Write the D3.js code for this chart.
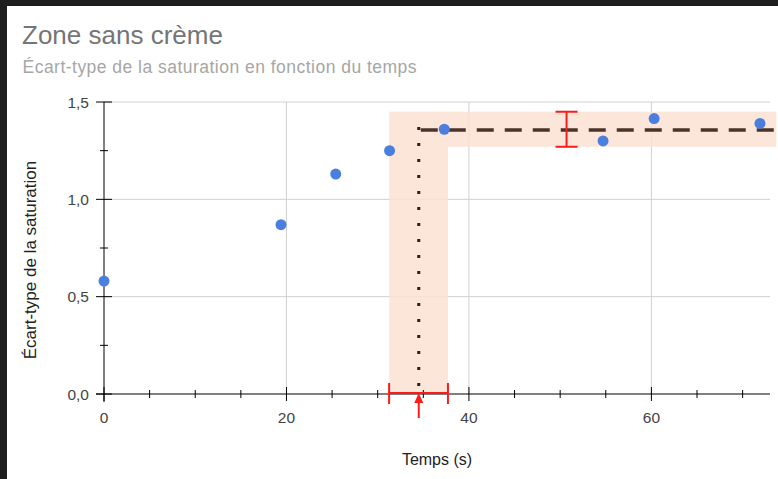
<!DOCTYPE html>
<html><head><meta charset="utf-8">
<script src="https://cdn.jsdelivr.net/npm/d3@7"></script>
<style>
html,body{margin:0;padding:0;background:#1e1e1e;overflow:hidden;}
svg{display:block;}
</style></head>
<body>
<svg id="chart" width="778" height="479"></svg>
<script>
// ---- data ----
const times = [0, 19.4, 25.4, 31.3, 37.3, 54.7, 60.3, 71.9];
const values = [0.58, 0.87, 1.13, 1.25, 1.36, 1.30, 1.415, 1.39];
const plateau = [1.356];
const plateauBand = [1.27, 1.45];
const transitionTime = [34.5];
const transitionBand = [31.25, 37.7];
const plateauErrTime = [50.7];
const xEnd = [73.7];
const xDomain = [0, 73];
const yDomain = [0, 1.5];
const xMajorTicks = [0, 20, 40, 60];
const xMinorTicks = [5, 10, 15, 25, 30, 35, 45, 50, 55, 65, 70];
const yMajorTicks = [0, 0.5, 1.0, 1.5];
const yMinorTicks = [0.25, 0.75, 1.25];
const xTickLabels = ["0", "20", "40", "60"];
const yTickLabels = ["0,0", "0,5", "1,0", "1,5"];
const titleText = "Zone sans crème";
const subtitleText = "Écart-type de la saturation en fonction du temps";
const xAxisTitle = "Temps (s)";
const yAxisTitle = "Écart-type de la saturation";

const svg = d3.select("#chart");
// white panel
svg.append("rect").attr("x", 7).attr("y", 6).attr("width", 771).attr("height", 473)
  .attr("fill", "#ffffff");

const x = d3.scaleLinear().domain(xDomain).range([104, 770]);
const y = d3.scaleLinear().domain(yDomain).range([394, 102]);

const font = "'Liberation Sans', Arial, sans-serif";

// titles
svg.append("text").attr("x", 22).attr("y", 44).text(titleText)
  .attr("font-family", font).attr("font-size", 26).attr("fill", "#757575");
svg.append("text").attr("x", 22.5).attr("y", 73).text(subtitleText)
  .attr("font-family", font).attr("font-size", 17.5).attr("fill", "#a6a6a6")
  .attr("textLength", 394).attr("lengthAdjust", "spacing");

// gridlines
const g = svg.append("g");
g.selectAll(".hg").data(yMajorTicks.filter(d => d > 0)).join("line")
  .attr("x1", x(0)).attr("x2", x(xDomain[1])).attr("y1", d => y(d)).attr("y2", d => y(d))
  .attr("stroke", "#d0d0d0").attr("stroke-width", 1);
g.selectAll(".vg").data(xMajorTicks.filter(d => d > 0)).join("line")
  .attr("x1", d => x(d)).attr("x2", d => x(d)).attr("y1", y(0)).attr("y2", y(yDomain[1]))
  .attr("stroke", "#d0d0d0").attr("stroke-width", 1);

// bands
const bandFill = "rgb(252,226,210)";
svg.append("rect")
  .attr("x", x(transitionBand[0])).attr("width", x(transitionBand[1]) - x(transitionBand[0]))
  .attr("y", y(plateauBand[1])).attr("height", y(0) - y(plateauBand[1]))
  .attr("fill", bandFill).attr("opacity", 0.85);
svg.append("rect")
  .attr("x", x(transitionBand[1])).attr("width", x(xEnd[0]) - x(transitionBand[1]))
  .attr("y", y(plateauBand[1])).attr("height", y(plateauBand[0]) - y(plateauBand[1]))
  .attr("fill", bandFill).attr("opacity", 0.85);

// axes
const ax = svg.append("g").attr("stroke", "#000").attr("stroke-width", 1);
ax.append("line").attr("x1", x(0) - 8).attr("x2", x(xDomain[1])).attr("y1", y(0)).attr("y2", y(0));
ax.append("line").attr("x1", x(0)).attr("x2", x(0)).attr("y1", y(0) + 8).attr("y2", y(yDomain[1]));
ax.selectAll(".xt").data(xMajorTicks).join("line")
  .attr("x1", d => x(d)).attr("x2", d => x(d)).attr("y1", y(0) - 7).attr("y2", y(0) + 7);
ax.selectAll(".xm").data(xMinorTicks).join("line")
  .attr("x1", d => x(d)).attr("x2", d => x(d)).attr("y1", y(0) - 4).attr("y2", y(0) + 4);
ax.selectAll(".yt").data(yMajorTicks).join("line")
  .attr("x1", x(0) - 8).attr("x2", x(0) + 8).attr("y1", d => y(d)).attr("y2", d => y(d));
ax.selectAll(".ym").data(yMinorTicks).join("line")
  .attr("x1", x(0) - 4).attr("x2", x(0) + 4).attr("y1", d => y(d)).attr("y2", d => y(d));

// tick labels
svg.selectAll(".xl").data(xMajorTicks).join("text")
  .attr("x", d => x(d)).attr("y", 423).attr("text-anchor", "middle")
  .text((d, i) => xTickLabels[i])
  .attr("font-family", font).attr("font-size", 15.5).attr("fill", "#444");
svg.selectAll(".yl").data(yMajorTicks).join("text")
  .attr("x", 89).attr("y", d => y(d) + 5.5).attr("text-anchor", "end")
  .text((d, i) => yTickLabels[i])
  .attr("font-family", font).attr("font-size", 15.5).attr("fill", "#444");

// axis titles
svg.append("text").attr("x", 437).attr("y", 465).attr("text-anchor", "middle").text(xAxisTitle)
  .attr("font-family", font).attr("font-size", 16).attr("fill", "#222");
svg.append("text").attr("transform", "translate(36,260) rotate(-90)").attr("text-anchor", "middle")
  .text(yAxisTitle).attr("font-family", font).attr("font-size", 17).attr("fill", "#222");

// dotted vertical line
svg.append("line")
  .attr("x1", x(transitionTime[0])).attr("x2", x(transitionTime[0]))
  .attr("y1", y(plateau[0]) - 3).attr("y2", y(0))
  .attr("stroke", "#222").attr("stroke-width", 3).attr("stroke-dasharray", "3,13");

// dashed plateau line
svg.append("line")
  .attr("x1", x(transitionTime[0]) + 2).attr("x2", x(xEnd[0]))
  .attr("y1", y(plateau[0])).attr("y2", y(plateau[0]))
  .attr("stroke", "#4a3328").attr("stroke-width", 3.5).attr("stroke-dasharray", "17,11");

// red error bars
const red = "#ff1a1a";
const re = svg.append("g").attr("stroke", red).attr("stroke-width", 2).attr("fill", "none");
re.append("line").attr("x1", x(plateauErrTime[0])).attr("x2", x(plateauErrTime[0]))
  .attr("y1", y(plateauBand[1])).attr("y2", y(plateauBand[0]));
re.selectAll(".cap").data(plateauBand).join("line")
  .attr("x1", x(plateauErrTime[0]) - 11).attr("x2", x(plateauErrTime[0]) + 11)
  .attr("y1", d => y(d)).attr("y2", d => y(d));
re.append("line").attr("x1", x(transitionBand[0])).attr("x2", x(transitionBand[1]))
  .attr("y1", y(0) - 1).attr("y2", y(0) - 1);
re.selectAll(".cap2").data(transitionBand).join("line")
  .attr("x1", d => x(d)).attr("x2", d => x(d))
  .attr("y1", y(0) - 11).attr("y2", y(0) + 10);
// arrow
re.append("line").attr("x1", x(transitionTime[0])).attr("x2", x(transitionTime[0]))
  .attr("y1", y(0) + 24).attr("y2", y(0) + 6);
svg.append("path")
  .attr("d", `M${x(transitionTime[0])},${y(0) - 1} l-4.5,10 l9,0 z`)
  .attr("fill", red);

// points
svg.selectAll(".pt").data(times).join("circle")
  .attr("cx", d => x(d)).attr("cy", (d, i) => y(values[i])).attr("r", 5.5)
  .attr("fill", "#4a7fdd");
</script>
</body></html>
